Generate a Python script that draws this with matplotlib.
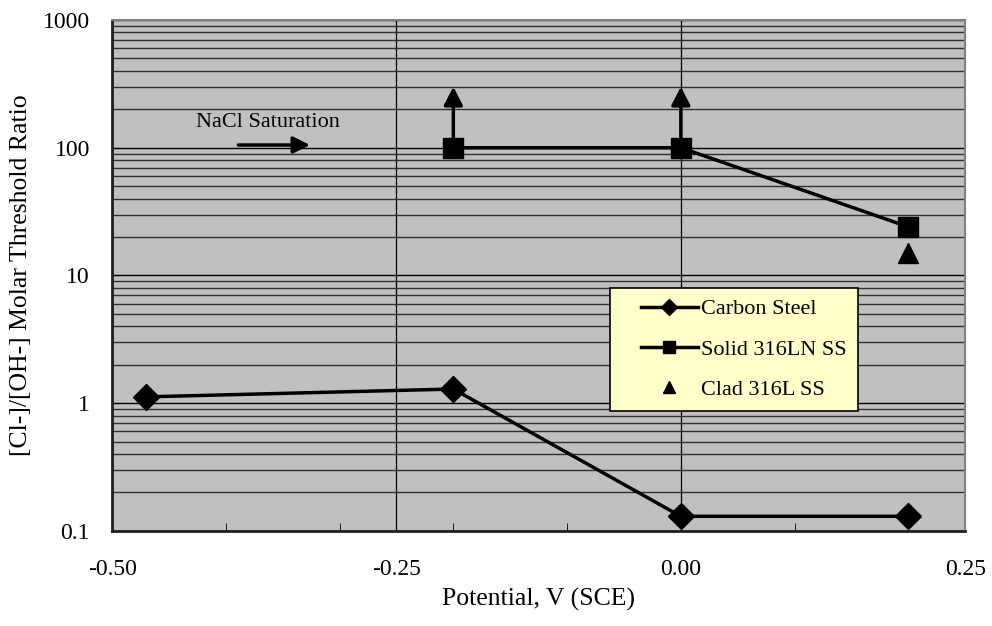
import matplotlib.pyplot as plt
from matplotlib.lines import Line2D
from matplotlib.legend_handler import HandlerLine2D
from matplotlib.ticker import FixedLocator, MultipleLocator, LogLocator, NullFormatter

plt.rcParams['font.family'] = ['Liberation Serif', 'DejaVu Serif']

# data
carbon_x = [-0.47, -0.20, 0.00, 0.20]
carbon_y = [1.12, 1.29, 0.13, 0.13]

solid_x = [-0.20, 0.00, 0.20]
solid_y = [100, 100, 24]

clad_x = [0.20]
clad_y = [15]

# lower-bound arrows (threshold not reached)
bound_x = [-0.20, 0.00]
bound_from = [100, 100]
bound_to = [300, 300]

x_ticks = [-0.50, -0.25, 0.00, 0.25]
x_labels = ["-0.50", "-0.25", "0.00", "0.25"]
y_ticks = [0.1, 1, 10, 100, 1000]
y_labels = ["0.1", "1", "10", "100", "1000"]

fs_tick = 17
fs_text = 16
fs_title = 18.5

fig = plt.figure(figsize=(9.92, 6.26), dpi=100)
ax = fig.add_axes([0.113, 0.152, 0.860, 0.816])
ax.set_facecolor('#c0c0c0')

ax.set_yscale('log')
ax.set_xlim(-0.5, 0.25)
ax.set_ylim(0.1, 1000)

# grid
ax.yaxis.set_minor_locator(LogLocator(base=10, subs=range(2, 10)))
ax.yaxis.set_minor_formatter(NullFormatter())
ax.grid(True, which='major', axis='y', color='black', lw=1.0)
ax.grid(True, which='minor', axis='y', color='#303030', lw=1.0)
ax.grid(True, which='major', axis='x', color='black', lw=0.9)

ax.xaxis.set_major_locator(FixedLocator(x_ticks))
ax.set_xticklabels(x_labels)
ax.xaxis.set_minor_locator(MultipleLocator(0.1))
ax.yaxis.set_major_locator(FixedLocator(y_ticks))
ax.set_yticklabels(y_labels)

ax.tick_params(axis='x', which='major', direction='in', length=0, pad=20, labelsize=fs_tick)
ax.tick_params(axis='x', which='minor', direction='in', length=6, color='black')
ax.tick_params(axis='y', which='major', direction='in', length=6, pad=16, labelsize=fs_tick)
ax.tick_params(axis='y', which='minor', length=0)

for side in ['left', 'bottom']:
    ax.spines[side].set_color('#202020')
    ax.spines[side].set_linewidth(2)
for side in ['top', 'right']:
    ax.spines[side].set_color('#808080')
    ax.spines[side].set_linewidth(1.5)

ax.set_xlabel("Potential, V (SCE)", fontsize=fs_title, labelpad=6)
ax.set_ylabel("[Cl-]/[OH-] Molar Threshold Ratio", fontsize=fs_title, labelpad=8)

# arrows above the solid 316LN points
for bx, y0, y1 in zip(bound_x, bound_from, bound_to):
    ax.annotate("", xy=(bx, y1), xytext=(bx, y0),
                arrowprops=dict(arrowstyle='-|>,head_length=1.1,head_width=0.57',
                                color='black', lw=2.5, shrinkA=0, shrinkB=0),
                zorder=3)

ax.plot(carbon_x, carbon_y, color='black', lw=2.5, marker='D', ms=13,
        label='Carbon Steel', zorder=4)
ax.plot(solid_x, solid_y, color='black', lw=2.5, marker='s', ms=14,
        label='Solid 316LN SS', zorder=4)
ax.plot(clad_x, clad_y, ls='none', color='black', marker='^', ms=14,
        label='Clad 316L SS', zorder=4)

# NaCl saturation note
ax.text(-0.426, 158, "NaCl Saturation", fontsize=fs_text, va='center', ha='left')
ax.annotate("", xy=(-0.326, 105), xytext=(-0.389, 105),
            arrowprops=dict(arrowstyle='-|>,head_length=1.0,head_width=0.5',
                            color='black', lw=2.5, shrinkA=0, shrinkB=0))

handles = [
    Line2D([], [], color='black', lw=2.5, marker='D', ms=8),
    Line2D([], [], color='black', lw=2.5, marker='s', ms=9),
    Line2D([], [], color='black', ls='none', marker='^', ms=9),
]
labels = ['Carbon Steel', 'Solid 316LN SS', 'Clad 316L SS']
leg = ax.legend(handles, labels, loc='upper left', bbox_to_anchor=(0.584, 0.476),
                borderaxespad=0, fontsize=fs_text, frameon=True, fancybox=False,
                handlelength=3.43, handletextpad=0.15, labelspacing=0.89,
                borderpad=0.5,
                handler_map={Line2D: HandlerLine2D(xpad=0.86)})
leg.get_frame().set_facecolor('#ffffcc')
leg.get_frame().set_edgecolor('black')
leg.get_frame().set_linewidth(1.2)
leg.get_frame().set_alpha(1)

fig.savefig('out.png', dpi=100)
